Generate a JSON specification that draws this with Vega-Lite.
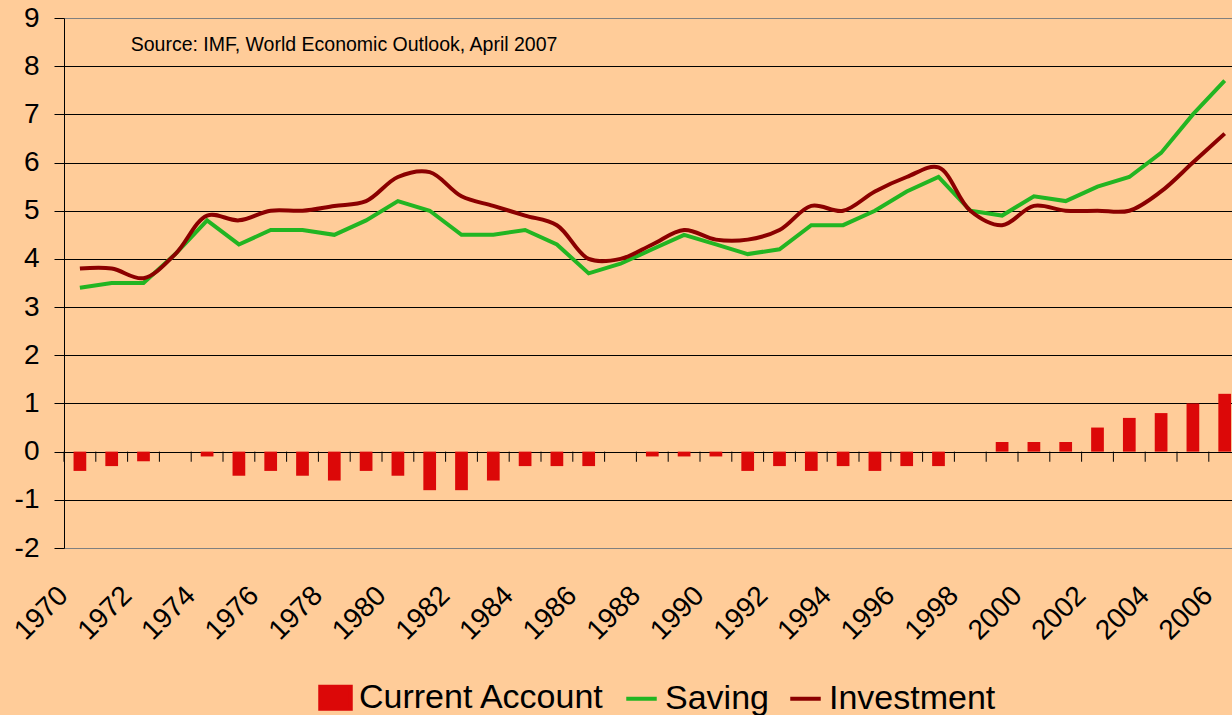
{
  "$schema": "https://vega.github.io/schema/vega-lite/v6.json",
  "autosize": {"type": "none"},
  "width": 1168,
  "height": 530,
  "padding": {"left": 64, "top": 18, "right": 0, "bottom": 167},
  "background": "#FFCC99",
  "config": {
    "font": "Liberation Sans",
    "view": {"stroke": null},
    "axis": {"labelColor": "#000", "labelFont": "Liberation Sans"}
  },
  "data": {"values": [
    {"year": "1970", "ca": -0.4, "saving": 3.4, "investment": 3.8},
    {"year": "1971", "ca": -0.3, "saving": 3.5, "investment": 3.8},
    {"year": "1972", "ca": -0.2, "saving": 3.5, "investment": 3.6},
    {"year": "1973", "ca": 0, "saving": 4.1, "investment": 4.1},
    {"year": "1974", "ca": -0.1, "saving": 4.8, "investment": 4.9},
    {"year": "1975", "ca": -0.5, "saving": 4.3, "investment": 4.8},
    {"year": "1976", "ca": -0.4, "saving": 4.6, "investment": 5.0},
    {"year": "1977", "ca": -0.5, "saving": 4.6, "investment": 5.0},
    {"year": "1978", "ca": -0.6, "saving": 4.5, "investment": 5.1},
    {"year": "1979", "ca": -0.4, "saving": 4.8, "investment": 5.2},
    {"year": "1980", "ca": -0.5, "saving": 5.2, "investment": 5.7},
    {"year": "1981", "ca": -0.8, "saving": 5.0, "investment": 5.8},
    {"year": "1982", "ca": -0.8, "saving": 4.5, "investment": 5.3},
    {"year": "1983", "ca": -0.6, "saving": 4.5, "investment": 5.1},
    {"year": "1984", "ca": -0.3, "saving": 4.6, "investment": 4.9},
    {"year": "1985", "ca": -0.3, "saving": 4.3, "investment": 4.7},
    {"year": "1986", "ca": -0.3, "saving": 3.7, "investment": 4.0},
    {"year": "1987", "ca": 0, "saving": 3.9, "investment": 4.0},
    {"year": "1988", "ca": -0.1, "saving": 4.2, "investment": 4.3},
    {"year": "1989", "ca": -0.1, "saving": 4.5, "investment": 4.6},
    {"year": "1990", "ca": -0.1, "saving": 4.3, "investment": 4.4},
    {"year": "1991", "ca": -0.4, "saving": 4.1, "investment": 4.4},
    {"year": "1992", "ca": -0.3, "saving": 4.2, "investment": 4.6},
    {"year": "1993", "ca": -0.4, "saving": 4.7, "investment": 5.1},
    {"year": "1994", "ca": -0.3, "saving": 4.7, "investment": 5.0},
    {"year": "1995", "ca": -0.4, "saving": 5.0, "investment": 5.4},
    {"year": "1996", "ca": -0.3, "saving": 5.4, "investment": 5.7},
    {"year": "1997", "ca": -0.3, "saving": 5.7, "investment": 5.9},
    {"year": "1998", "ca": 0, "saving": 5.0, "investment": 5.0},
    {"year": "1999", "ca": 0.2, "saving": 4.9, "investment": 4.7},
    {"year": "2000", "ca": 0.2, "saving": 5.3, "investment": 5.1},
    {"year": "2001", "ca": 0.2, "saving": 5.2, "investment": 5.0},
    {"year": "2002", "ca": 0.5, "saving": 5.5, "investment": 5.0},
    {"year": "2003", "ca": 0.7, "saving": 5.7, "investment": 5.0},
    {"year": "2004", "ca": 0.8, "saving": 6.2, "investment": 5.4},
    {"year": "2005", "ca": 1.0, "saving": 7.0, "investment": 6.0},
    {"year": "2006", "ca": 1.2, "saving": 7.7, "investment": 6.6}
  ]},
  "encoding": {
    "x": {
      "field": "year", "type": "ordinal", "sort": null,
      "scale": {"paddingInner": 0, "paddingOuter": 0, "range": [0, 1176.6]},
      "axis": {
        "title": null, "domain": false, "ticks": false, "grid": false,
        "values": ["1970","1972","1974","1976","1978","1980","1982","1984","1986","1988","1990","1992","1994","1996","1998","2000","2002","2004","2006"],
        "labelAngle": -45, "labelAlign": "right", "labelBaseline": "middle",
        "labelFontSize": 28, "labelPadding": 43, "labelOffset": -16
      }
    }
  },
  "layer": [
    {
      "mark": {"type": "bar", "width": {"band": 0.4}},
      "encoding": {
        "y": {
          "field": "ca", "type": "quantitative",
          "scale": {"domain": [-2, 9], "nice": false, "zero": false},
          "axis": {
            "title": null, "values": [-2,-1,0,1,2,3,4,5,6,7,8,9],
            "labelExpr": "'' + datum.value",
            "domain": true, "domainColor": "#000", "domainWidth": 1,
            "ticks": true, "tickSize": 10, "tickColor": "#000",
            "grid": true,
            "gridColor": {"condition": {"test": "datum.value == 9 || datum.value == -2", "value": "#808080"}, "value": "#000"},
            "gridWidth": 1, "gridOpacity": 1,
            "labelFontSize": 28, "labelPadding": 15
          }
        },
        "color": {
          "datum": "Current Account",
          "scale": {"domain": ["Current Account", "Saving", "Investment"], "range": ["#DC0808", "#22B522", "#8B0000"]},
          "legend": {
            "orient": "none", "legendX": 254, "legendY": 662,
            "direction": "horizontal", "title": null, "padding": 0,
            "labelFontSize": 34, "labelFont": "Liberation Sans", "labelColor": "#000",
            "labelLimit": 0,
            "labelOffset": 6, "columnPadding": 13,
            "symbolSize": 930, "symbolStrokeWidth": 4,
            "encode": {"symbols": {"update": {
              "shape": {"signal": "datum.value === 'Current Account' ? 'M-1,-0.72H1V0.72H-1Z' : 'M-1,0H1'"},
              "fill": {"signal": "datum.value === 'Current Account' ? '#DC0808' : 'transparent'"},
              "stroke": {"signal": "datum.value === 'Current Account' ? 'transparent' : (datum.value === 'Saving' ? '#22B522' : '#8B0000')"},
              "strokeWidth": {"value": 4},
              "opacity": {"value": 1}
            }}}
          }
        }
      }
    },
    {
      "mark": {"type": "rule", "color": "#000", "strokeWidth": 1},
      "encoding": {
        "x": {"field": "year", "type": "ordinal", "bandPosition": 0},
        "y": {"datum": 0, "type": "quantitative"},
        "y2": {"datum": -0.21}
      }
    },
    {
      "mark": {"type": "line", "strokeWidth": 4, "interpolate": "linear"},
      "encoding": {
        "y": {"field": "saving", "type": "quantitative"},
        "color": {"datum": "Saving"}
      }
    },
    {
      "mark": {"type": "line", "strokeWidth": 4, "interpolate": "catmull-rom"},
      "encoding": {
        "y": {"field": "investment", "type": "quantitative"},
        "color": {"datum": "Investment"}
      }
    },
    {
      "data": {"values": [{"note": "Source: IMF, World Economic Outlook, April 2007"}]},
      "mark": {"type": "text", "align": "left", "baseline": "middle", "fontSize": 19.5, "color": "#000", "dx": -12.8},
      "encoding": {
        "x": {"datum": "1972", "type": "ordinal"},
        "y": {"datum": 8.43, "type": "quantitative"},
        "text": {"field": "note"}
      }
    }
  ]
}
